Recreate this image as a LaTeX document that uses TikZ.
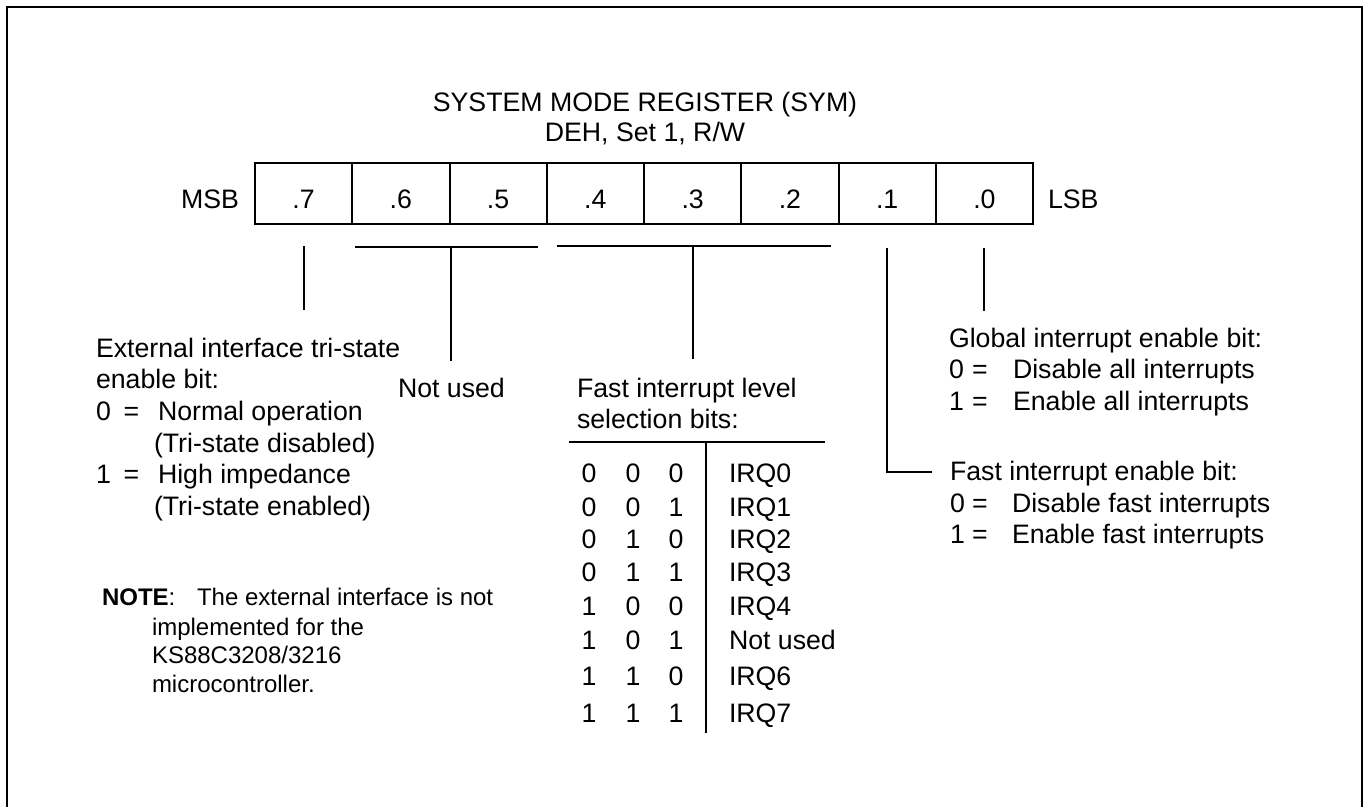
\documentclass[tikz,border=0pt]{standalone}
\usepackage{fontspec}
\setmainfont{Liberation Sans}
\newcommand\regfont{\fontsize{26.7}{31.6}\selectfont}
\newcommand\notefont{\fontsize{24}{29}\selectfont}
\begin{document}
\begin{tikzpicture}[x=1pt,y=-1pt,line width=2pt,
  cell/.style={draw,line width=2pt,minimum width=97.25pt,minimum height=61pt,inner sep=0pt},
  txt/.style={anchor=base west,inner sep=0pt,font=\regfont},
  ctxt/.style={anchor=base,inner sep=0pt,font=\regfont},
  ntxt/.style={anchor=base west,inner sep=0pt,font=\notefont},
  wire/.style={line width=2pt}]
\useasboundingbox (0,0) rectangle (1367,806);

% outer frame (open at the bottom)
\draw[line width=2pt] (7,812) -- (7,7) -- (1362,7) -- (1362,812);

% title
\node[ctxt] (title) at (645,111) {SYSTEM MODE REGISTER (SYM)};
\node[ctxt] (addr) at (645,141) {DEH, Set 1, R/W};

% register cells
\foreach \i/\b in {0/7,1/6,2/5,3/4,4/3,5/2,6/1,7/0}{
  \node[cell] (b\b) at (255+97.25*\i+48.625,193.5) {};
  \node[ctxt] (t\b) at (255+97.25*\i+48.625,208) {.\b};
}
\node[anchor=base east,inner sep=0pt,font=\regfont] (msb) at (240,208) {MSB};
\node[txt] (lsb) at (1047,208) {LSB};

% bit 7
\coordinate (w7a) at ([yshift=-21pt]b7.south);
\coordinate (w7b) at ([yshift=-85pt]b7.south);
\draw[wire] (w7a) -- (w7b);

% bits 6-5
\coordinate (h65a) at ([xshift=4pt,yshift=-22pt]b6.south west);
\coordinate (h65b) at ([xshift=-10pt,yshift=-22pt]b5.south east);
\coordinate (v65a) at ([yshift=-22pt]b6.south east);
\coordinate (v65b) at ([yshift=-136pt]b6.south east);
\draw[wire] (h65a) -- (h65b);
\draw[wire] (v65a) -- (v65b);

% bits 4-2
\coordinate (h42a) at ([xshift=11pt,yshift=-21pt]b4.south west);
\coordinate (h42b) at ([xshift=-9pt,yshift=-21pt]b2.south east);
\coordinate (v42a) at ([yshift=-21pt]b3.south);
\coordinate (v42b) at ([yshift=-134pt]b3.south);
\draw[wire] (h42a) -- (h42b);
\draw[wire] (v42a) -- (v42b);

% bit 1
\coordinate (w1a) at ([yshift=-23pt]b1.south);
\coordinate (w1b) at ([yshift=-247pt]b1.south);
\coordinate (w1c) at ([xshift=45pt,yshift=-247pt]b1.south);
\draw[wire] (w1a) -- (w1b) -- (w1c);

% bit 0
\coordinate (w0a) at ([yshift=-23pt]b0.south);
\coordinate (w0b) at ([yshift=-86pt]b0.south);
\draw[wire] (w0a) -- (w0b);

% bit 7 description
\node[txt] (ext1) at (95,357) {External interface tri-state};
\node[txt] (ext2) at (95,388) {enable bit:};
\node[txt] (ext3a) at (95,420) {0};
\node[ctxt] (ext3b) at (131.5,420) {=};
\node[txt] (ext3c) at (157,420) {Normal operation};
\node[txt] (ext4) at (153,452) {(Tri-state disabled)};
\node[txt] (ext5a) at (95,483) {1};
\node[ctxt] (ext5b) at (131.5,483) {=};
\node[txt] (ext5c) at (157,483) {High impedance};
\node[txt] (ext6) at (153,515) {(Tri-state enabled)};

% bits 6-5 description
\node[txt] (nu) at (397,397) {Not used};

% note
\node[ntxt] (note1a) at (101,605) {\textbf{NOTE}:};
\node[ntxt] (note1b) at (196,605) {The external interface is not};
\node[ntxt] (note2) at (151,635) {implemented for the};
\node[ntxt] (note3) at (151,663) {KS88C3208/3216};
\node[ntxt] (note4) at (151,692) {microcontroller.};

% bits 4-2 description and table
\node[txt] (fl1) at (576,397) {Fast interrupt level};
\node[txt] (fl2) at (576,428) {selection bits:};
\coordinate (rl) at (569,442);
\coordinate (rr) at (825,442);
\coordinate (vt) at (706,442);
\coordinate (vb) at (706,733);
\draw[wire] (rl) -- (rr);
\draw[wire] (vt) -- (vb);
\foreach \y/\a/\b/\c/\r in {482/0/0/0/IRQ0,516/0/0/1/IRQ1,548/0/1/0/IRQ2,581/0/1/1/IRQ3,
                            615/1/0/0/IRQ4,649/1/0/1/Not used,685/1/1/0/IRQ6,722/1/1/1/IRQ7}{
  \node[ctxt] (r\y a) at (589,\y) {\a};
  \node[ctxt] (r\y b) at (633,\y) {\b};
  \node[ctxt] (r\y c) at (676,\y) {\c};
  \node[txt] (r\y d) at (728,\y) {\r};
}

% bit 0 description
\node[txt] (g1) at (948,347) {Global interrupt enable bit:};
\node[txt] (g2a) at (948,378) {0};
\node[ctxt] (g2b) at (980,378) {=};
\node[txt] (g2c) at (1012,378) {Disable all interrupts};
\node[txt] (g3a) at (948,410) {1};
\node[ctxt] (g3b) at (980,410) {=};
\node[txt] (g3c) at (1012,410) {Enable all interrupts};

% bit 1 description
\node[txt] (f1) at (949,480) {Fast interrupt enable bit:};
\node[txt] (f2a) at (949,512) {0};
\node[ctxt] (f2b) at (980,512) {=};
\node[txt] (f2c) at (1011,512) {Disable fast interrupts};
\node[txt] (f3a) at (949,543) {1};
\node[ctxt] (f3b) at (980,543) {=};
\node[txt] (f3c) at (1011,543) {Enable fast interrupts};
\end{tikzpicture}
\end{document}
